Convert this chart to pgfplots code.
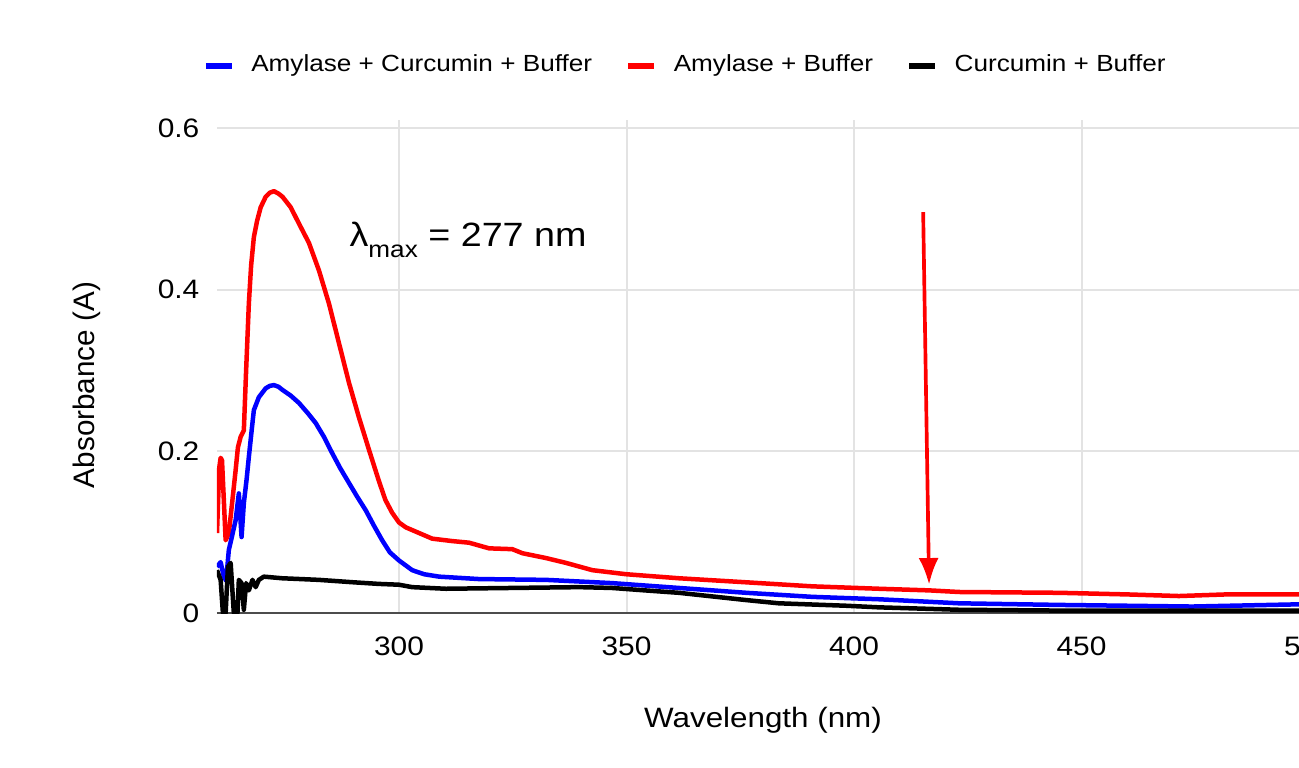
\documentclass[border=0pt]{standalone}
\usepackage{fontspec}
\setmainfont{Liberation Sans}[FakeStretch=1.12]
\newfontfamily\ylabfont{Liberation Sans}
\usepackage{pgfplots}
\pgfplotsset{compat=1.18}
\usetikzlibrary{arrows.meta}
\definecolor{gridc}{HTML}{E3E3E3}

\begin{document}
\begin{tikzpicture}
\begin{axis}[
  at={(0pt,0pt)}, anchor=south west,
  scale only axis, width=327.6pt, height=147.9pt,
  xmin=260, xmax=500, ymin=0, ymax=0.61,
  xtick={300,350,400,450,500},
  ytick={0,0.2,0.4,0.6}, yticklabels={0,0.2,0.4,0.6},
  axis line style={draw=none}, tick style={draw=none},
  grid=major, grid style={gridc, line width=0.6pt},
  /pgf/number format/assume math mode=true,
  tick label style={font=\fontsize{8}{8}\selectfont, inner sep=0pt},
  xticklabel style={anchor=north}, xticklabel shift=6.9pt,
  yticklabel style={anchor=east}, yticklabel shift=5.1pt,
  xlabel={Wavelength (nm)}, ylabel={Absorbance (A)},
  xlabel style={font=\fontsize{8.4}{8.4}\selectfont, at={(axis description cs:0.5,-0.217)}, anchor=center},
  ylabel style={font=\ylabfont\fontsize{8.9}{8.9}\selectfont, at={(axis description cs:-0.119,0.4625)}, anchor=center, rotate=0},
  legend columns=3,
  legend style={draw=none, fill=none, at={(axis description cs:-0.0138,1.1095)}, anchor=west,
    font=\fontsize{7.0}{7.0}\selectfont, inner sep=0pt, nodes={inner sep=0pt},
    /tikz/every odd column/.append style={column sep=4.8pt},
    /tikz/every even column/.append style={column sep=9.9pt}},
  legend image code/.code={\draw[#1, line width=2pt] (0pt,0pt) -- (7.8pt,0pt);},
  every axis plot/.append style={line width=1.35pt, line join=round},
]
\addlegendimage{blue}
\addlegendentry{Amylase + Curcumin + Buffer}
\addlegendimage{red}
\addlegendentry{Amylase + Buffer}
\addlegendimage{black}
\addlegendentry{Curcumin + Buffer}

\draw[black!70, line width=0.6pt] (axis cs:260,0) -- (axis cs:500,0);

% Amylase + Buffer
\addplot[red, forget plot] coordinates {
(260.0,0.099) (260.5,0.180) (260.8,0.192) (261.1,0.189) (261.5,0.140) (261.9,0.090)
(262.6,0.099) (263.3,0.135) (264.1,0.177) (264.6,0.205) (265.2,0.218) (265.9,0.226)
(266.4,0.300) (267.0,0.383) (267.5,0.430) (268.1,0.465) (268.8,0.485) (269.6,0.502)
(270.7,0.515) (271.6,0.520) (272.5,0.522) (273.5,0.519) (274.4,0.515) (276.2,0.502)
(278.0,0.482) (280.2,0.458) (282.4,0.424) (284.6,0.383) (286.8,0.334) (289.0,0.285)
(291.2,0.242) (293.4,0.202) (295.6,0.163) (297.0,0.140) (298.5,0.124) (300.0,0.112)
(301.5,0.106) (304.4,0.099) (307.3,0.092) (311.7,0.089) (315.4,0.087) (319.8,0.080)
(324.9,0.079) (327.1,0.074) (332.3,0.068) (336.7,0.062) (342.5,0.053) (349.9,0.048)
(361.5,0.043) (376.3,0.038) (390.8,0.033) (405.5,0.030) (416.5,0.028) (423.1,0.026)
(445.1,0.025) (460.0,0.023) (471.4,0.021) (481.8,0.023) (500.0,0.023)
};
% Amylase + Curcumin + Buffer
\addplot[blue, forget plot] coordinates {
(260.0,0.057) (260.8,0.063) (261.5,0.045) (262.0,0.040) (262.6,0.078) (263.3,0.095)
(264.1,0.115) (264.8,0.148) (265.4,0.094) (265.9,0.136) (266.5,0.165) (267.0,0.193)
(267.6,0.225) (268.1,0.251) (269.2,0.267) (270.7,0.278) (271.6,0.281) (272.5,0.282)
(273.5,0.280) (274.4,0.276) (276.2,0.269) (278.0,0.260) (280.0,0.247) (281.7,0.235)
(283.5,0.218) (285.3,0.198) (287.1,0.179) (289.0,0.161) (290.8,0.144) (292.7,0.127)
(294.5,0.108) (296.3,0.090) (298.0,0.075) (300.0,0.065) (302.9,0.053) (305.5,0.048)
(308.8,0.045) (317.6,0.042) (332.3,0.041) (346.8,0.037) (361.5,0.031) (376.3,0.025)
(390.8,0.020) (405.5,0.017) (423.1,0.012) (445.1,0.010) (474.3,0.008) (500.0,0.011)
};
% Curcumin + Buffer
\addplot[black, forget plot] coordinates {
(260.0,0.053) (260.8,0.041) (261.3,0.000) (261.9,0.000) (262.4,0.057) (263.0,0.062)
(263.7,0.000) (264.5,0.000) (264.8,0.041) (265.4,0.037) (265.9,0.004) (266.4,0.037)
(267.0,0.028) (267.8,0.041) (268.5,0.032) (269.2,0.041) (270.3,0.045) (274.3,0.043)
(282.4,0.041) (290.0,0.038) (295.6,0.036) (300.0,0.035) (302.9,0.032) (310.3,0.030)
(324.9,0.031) (339.6,0.032) (346.8,0.031) (354.0,0.028) (361.5,0.025) (376.3,0.016)
(383.5,0.012) (398.2,0.009) (405.5,0.007) (423.1,0.004) (445.1,0.003) (500.0,0.003)
};

\node[anchor=base west, inner sep=0pt, font=\fontsize{10.1}{10.1}\selectfont]
  at (axis cs:289.0,0.454) {λ\raisebox{-3.4pt}{\fontsize{7}{7}\selectfont max} = 277 nm};
\draw[red, line width=1.1pt, -{Latex[length=8pt, width=6pt]}]
  (axis cs:415.2,0.496) -- (axis cs:416.5,0.035);
\end{axis}
\pgfresetboundingbox
\useasboundingbox (-65.1pt,-46.2pt) rectangle (324.6pt,183.9pt);
\end{tikzpicture}
\end{document}
